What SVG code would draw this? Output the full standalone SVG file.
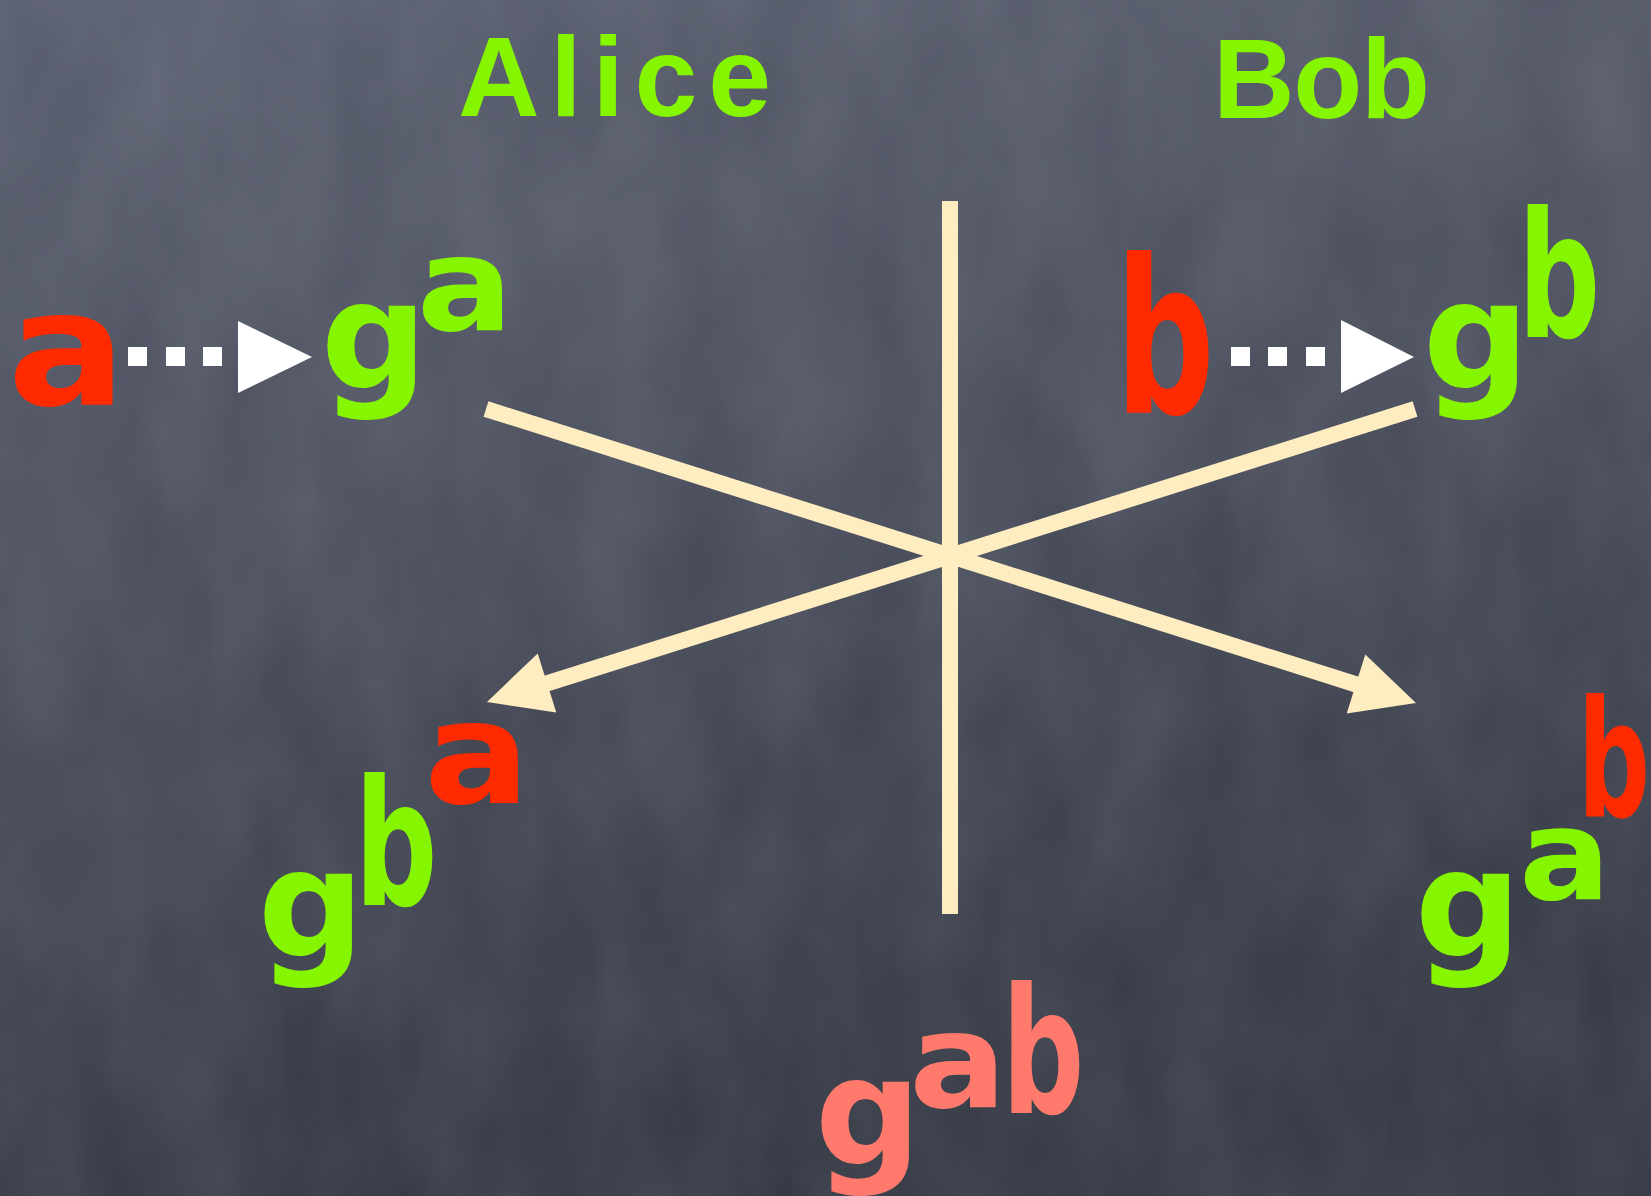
<svg xmlns="http://www.w3.org/2000/svg" width="1651" height="1196" viewBox="0 0 1651 1196">
<style>
.hand{font-family:"DejaVu Sans","Liberation Sans",sans-serif;font-weight:700;text-anchor:middle}
.title{font-family:"Liberation Sans","DejaVu Sans",sans-serif;font-weight:700;fill:#86f500}
.grn{fill:#86f500}
.red{fill:#ff2a00}
.pink{fill:#ff7a6c}
.beam{stroke:#fdedc0;stroke-width:16;fill:none}
.head{fill:#fdedc0}
.dot{fill:#ffffff}
</style>
<defs>
<linearGradient id="bg" x1="0" y1="0" x2="0.25" y2="1">
<stop offset="0" stop-color="#5b6070"/>
<stop offset="0.5" stop-color="#4a4e5c"/>
<stop offset="1" stop-color="#353944"/>
</linearGradient>
<filter id="grain" x="0" y="0" width="100%" height="100%">
<feTurbulence type="fractalNoise" baseFrequency="0.012 0.006" numOctaves="3" seed="4"/>
<feColorMatrix type="matrix" values="0 0 0 0 0.6  0 0 0 0 0.62  0 0 0 0 0.7  0 0 0 0.35 -0.05"/>
</filter>
</defs>
<rect width="1651" height="1196" fill="url(#bg)"/>
<rect width="1651" height="1196" filter="url(#grain)" opacity="0.45"/>

<g id="connectors">
<g id="dots-a">
<rect class="dot" x="128" y="347" width="19" height="19"/>
<rect class="dot" x="166" y="347" width="19" height="19"/>
<rect class="dot" x="203" y="347" width="19" height="19"/>
<polygon class="dot" points="238,321 312,357 238,393"/>
</g>
<g id="dots-b">
<rect class="dot" x="1231" y="347" width="19" height="19"/>
<rect class="dot" x="1268" y="347" width="19" height="19"/>
<rect class="dot" x="1306" y="347" width="19" height="19"/>
<polygon class="dot" points="1341,320 1414,357 1341,393"/>
</g>
<line class="beam" x1="950" y1="201" x2="950" y2="914"/>
<line class="beam" x1="486" y1="409" x2="1358" y2="685"/>
<polygon class="head" points="1416,703 1365.3,654.4 1346.7,713.6"/>
<line class="beam" x1="1415" y1="409" x2="545" y2="684"/>
<polygon class="head" points="487,702 537.7,653.4 556.3,712.6"/>
</g>

<g id="alice">
<text class="title" x="458" y="116" font-size="113" textLength="313" lengthAdjust="spacing">Alice</text>
</g>
<g id="bob">
<text class="title" x="1213" y="118" font-size="113" textLength="217" lengthAdjust="spacing">Bob</text>
</g>

<g id="secret-a">
<text class="hand red" transform="translate(67,405) scale(1.1,1)" font-size="160">a</text>
</g>
<g id="public-ga">
<text class="hand grn" transform="translate(374,388)" font-size="149">g</text>
<text class="hand grn" transform="translate(465,330) scale(1.1,1)" font-size="130">a</text>
</g>
<g id="secret-b">
<text class="hand red" transform="translate(1165,413) scale(0.65,1)" font-size="214">b</text>
</g>
<g id="public-gb">
<text class="hand grn" transform="translate(1476,388)" font-size="149">g</text>
<text class="hand grn" transform="translate(1559,337) scale(0.66,1)" font-size="174">b</text>
</g>
<g id="alice-result">
<text class="hand grn" transform="translate(311,956)" font-size="149">g</text>
<text class="hand grn" transform="translate(396,905) scale(0.66,1)" font-size="175">b</text>
<text class="hand red" transform="translate(477,803) scale(1.1,1)" font-size="143">a</text>
</g>
<g id="bob-result">
<text class="hand grn" transform="translate(1468,956)" font-size="149">g</text>
<text class="hand grn" transform="translate(1565,899) scale(1.08,1)" font-size="126">a</text>
<text class="hand red" transform="translate(1614,816) scale(0.62,1)" font-size="163">b</text>
</g>
<g id="shared">
<text class="hand pink" transform="translate(868,1164)" font-size="149">g</text>
<text class="hand pink" transform="translate(958,1107) scale(1.1,1)" font-size="132">a</text>
<text class="hand pink" transform="translate(1043,1113) scale(0.66,1)" font-size="175">b</text>
</g>
</svg>
